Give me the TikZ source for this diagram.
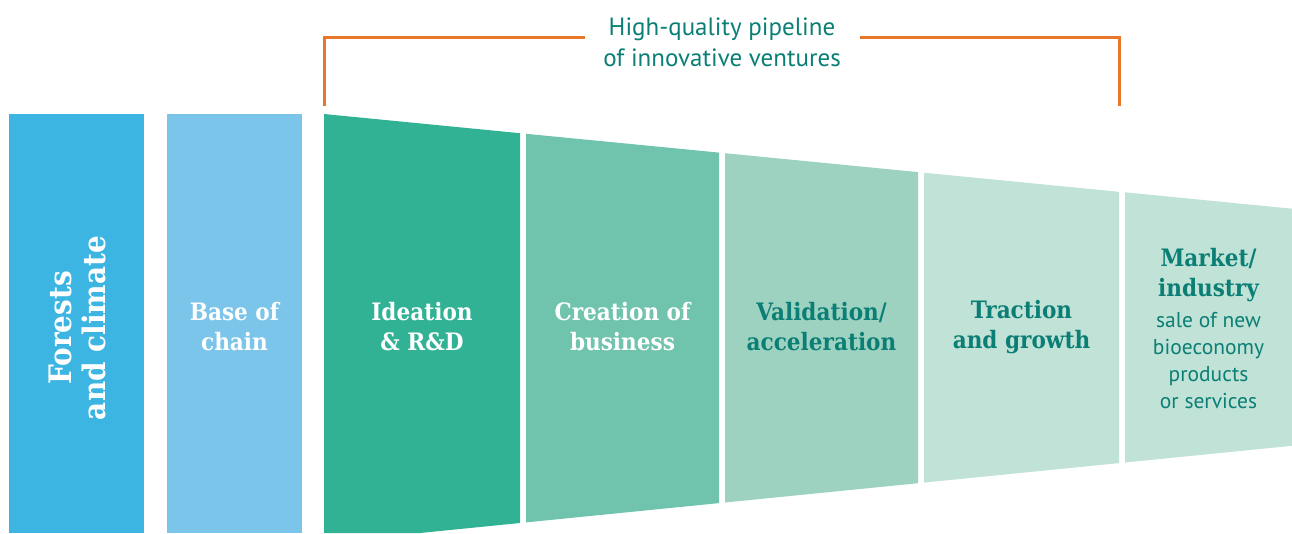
\documentclass[tikz,border=0pt]{standalone}
\usepackage{fontspec}
\setmainfont{PT Sans}
\newfontfamily\slab[FakeStretch=0.9]{DejaVu Serif}
\definecolor{skyA}{HTML}{3DB5E3}
\definecolor{skyB}{HTML}{7BC4EA}
\definecolor{grA}{HTML}{31B295}
\definecolor{grB}{HTML}{70C3AC}
\definecolor{grC}{HTML}{9DD2C1}
\definecolor{grD}{HTML}{C1E2D7}
\definecolor{tealtxt}{HTML}{0B7F75}
\definecolor{bracket}{HTML}{E8772A}
\begin{document}
\begin{tikzpicture}[x=1pt,y=-1pt,
  head/.style={align=center,font=\slab\bfseries\fontsize{24}{30}\selectfont,text=white},
  headbold/.style={head,text=tealtxt},
  bracketline/.style={draw=bracket,line width=3pt},
  ]
  \useasboundingbox (0,0) rectangle (1292,533);
  % left-hand columns
  \fill[skyA] (9,114) rectangle (144,533);
  \fill[skyB] (167,114) rectangle (302,533);
  % tapering pipeline segments
  \fill[grA] (324,114) -- (520,133.2) -- (520,523) -- (420,533) -- (324,533) -- cycle;
  \fill[grB] (526,133.8) -- (719,152.6) -- (719,503.1) -- (526,522.4) -- cycle;
  \fill[grC] (725,153.2) -- (918,172.1) -- (918,483.2) -- (725,502.5) -- cycle;
  \fill[grD] (924,172.7) -- (1119,191.8) -- (1119,463.1) -- (924,482.6) -- cycle;
  \fill[grD] (1125,192.3) -- (1292,208.7) -- (1292,445.8) -- (1125,462.5) -- cycle;
  % labels
  \node[head,rotate=90,font=\slab\bfseries\fontsize{31}{34}\selectfont] (forest) at (77,328) {Forests\\and climate};
  \node[head] (base) at (234.5,327) {Base of\\chain};
  \node[head] (idea) at (422,327) {Ideation\\\&~R\&D};
  \node[head] (create) at (622.5,327) {Creation of\\business};
  \node[headbold] (valid) at (821.5,327) {Validation/\\acceleration};
  \node[headbold] (trac) at (1021.5,327) {Traction\\and growth};
  \node[headbold] (market) at (1208.5,275) {Market/\\industry};
  \node[align=center,text=tealtxt,font=\fontsize{21.5}{27}\selectfont] (marketsub) at (1208.5,361)
    {sale of new\\bioeconomy\\products\\or services};
  % bracket over the pipeline
  \node[align=center,text=tealtxt,font=\fontsize{25}{31}\selectfont] (pipe) at (722,42)
    {High-quality pipeline\\of innovative ventures};
  \coordinate (bl) at (324,106);
  \coordinate (br) at (1119,106);
  \coordinate (gl) at (585,37);
  \coordinate (gr) at (860,37);
  \draw[bracketline] (bl) |- (gl);
  \draw[bracketline] (gr) -| (br);
\end{tikzpicture}
\end{document}
